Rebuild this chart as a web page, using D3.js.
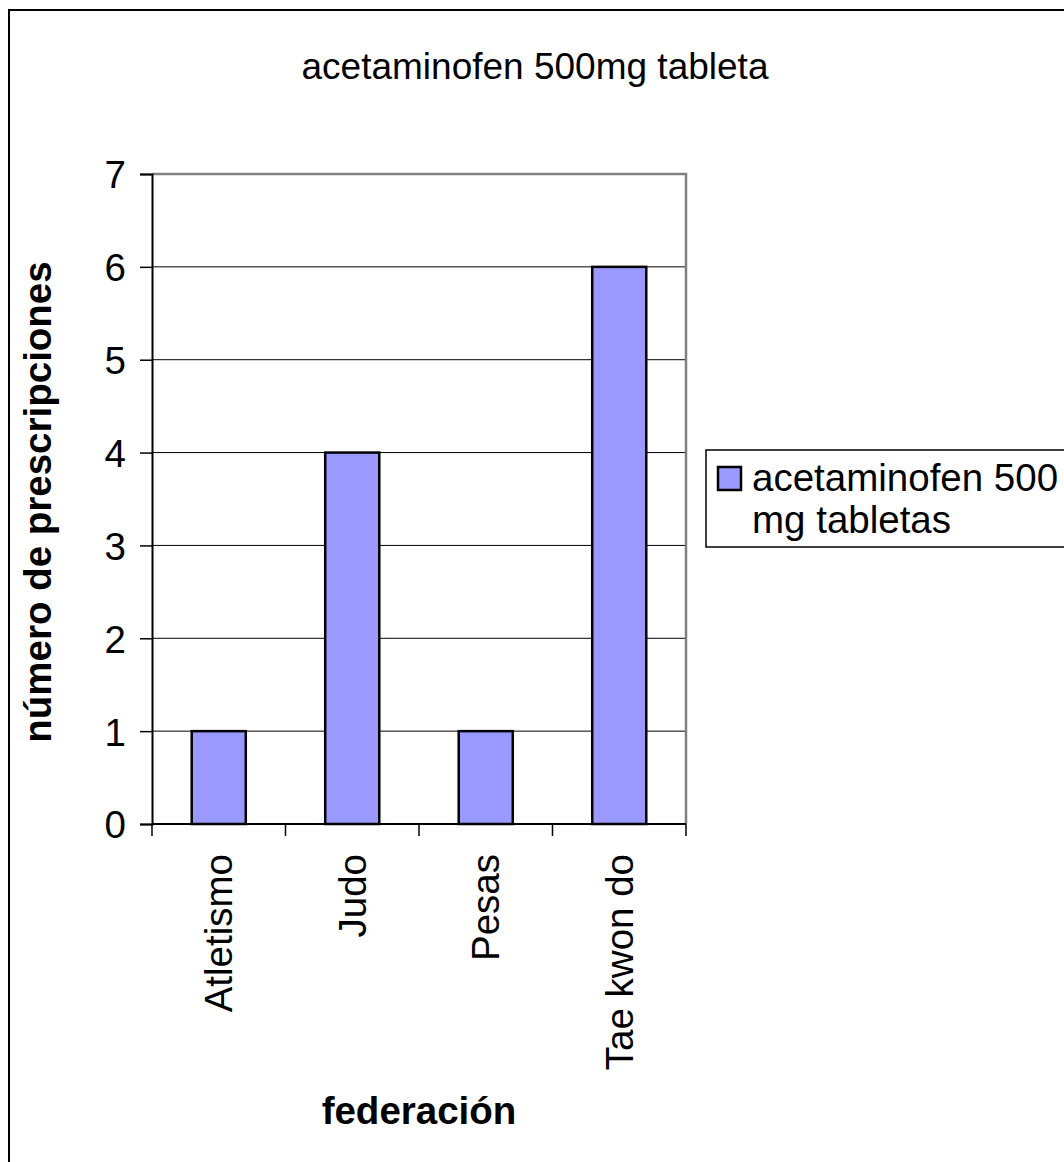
<!DOCTYPE html>
<html>
<head>
<meta charset="utf-8">
<script src="https://cdn.jsdelivr.net/npm/d3@7"></script>
<style>
  html, body { margin: 0; padding: 0; background: #fff; }
  svg { display: block; font-family: "Liberation Sans", Arial, sans-serif; }
</style>
</head>
<body>
<svg id="chart" width="1064" height="1162"></svg>
<script>
// Prescriptions of acetaminofen 500 mg tablets per sports federation
const categories = ["Atletismo", "Judo", "Pesas", "Tae kwon do"];
const values = [1, 4, 1, 6];
const yTicks = [0, 1, 2, 3, 4, 5, 6, 7];
const seriesName = ["acetaminofen 500", "mg tabletas"];
const title = "acetaminofen 500mg tableta";
const yTitle = "número de prescripciones";
const xTitle = "federación";

const svg = d3.select("#chart");
const fontSize = 38.5;
const titleSize = 37;
const barFill = "#9999FF";

// outer chart frame (extends past the window on the right and bottom)
svg.append("rect")
  .attr("x", 9).attr("y", 10)
  .attr("width", 1200).attr("height", 1300)
  .attr("fill", "#fff").attr("stroke", "#000").attr("stroke-width", 2);

const plot = { left: 152, top: 174, right: 686, bottom: 824 };

const x = d3.scaleBand().domain(categories).range([plot.left, plot.right]).padding(0);
const y = d3.scaleLinear().domain([0, 7]).range([plot.bottom, plot.top]);

// horizontal gridlines
svg.append("g")
  .selectAll("line")
  .data(yTicks.filter(t => t > 0 && t < 7))
  .join("line")
  .attr("x1", plot.left).attr("x2", plot.right)
  .attr("y1", d => y(d)).attr("y2", d => y(d))
  .attr("stroke", "#000").attr("stroke-width", 1);

// plot area top and right edges
svg.append("path")
  .attr("d", `M${plot.left},${y(7)}H${plot.right}V${plot.bottom}`)
  .attr("fill", "none").attr("stroke", "#808080").attr("stroke-width", 2.5);

// bars
const barW = x.bandwidth() * 0.405;
svg.append("g")
  .selectAll("rect")
  .data(categories.map((c, i) => ({ c, v: values[i] })))
  .join("rect")
  .attr("x", d => x(d.c) + x.bandwidth() / 2 - barW / 2)
  .attr("y", d => y(d.v))
  .attr("width", barW)
  .attr("height", d => y(0) - y(d.v))
  .attr("fill", barFill)
  .attr("stroke", "#000").attr("stroke-width", 2.5);

// y axis
const yAxis = d3.axisLeft(y).tickValues(yTicks).tickSize(12).tickPadding(14).tickFormat(d3.format("d"));
const gy = svg.append("g").attr("transform", `translate(${plot.left},0)`).call(yAxis);
gy.select(".domain").attr("stroke", "#000").attr("stroke-width", 2);
gy.selectAll(".tick line").attr("stroke", "#000").attr("stroke-width", 1.5);
gy.selectAll(".tick text")
  .attr("font-size", fontSize).attr("font-family", "Liberation Sans, Arial, sans-serif")
  .attr("fill", "#000").attr("dy", "0.36em");

// x axis: ticks at category boundaries
const gx = svg.append("g").attr("transform", `translate(0,${plot.bottom})`);
gx.append("line")
  .attr("x1", plot.left).attr("x2", plot.right)
  .attr("y1", 0).attr("y2", 0)
  .attr("stroke", "#000").attr("stroke-width", 2);
const bounds = categories.map(c => x(c)).concat([x(categories[categories.length - 1]) + x.bandwidth()]);
gx.selectAll("line.tk")
  .data(bounds)
  .join("line")
  .attr("class", "tk")
  .attr("x1", d => d).attr("x2", d => d)
  .attr("y1", 0).attr("y2", 12)
  .attr("stroke", "#000").attr("stroke-width", 1.5);
gx.selectAll("text")
  .data(categories)
  .join("text")
  .attr("transform", d => `translate(${x(d) + x.bandwidth() / 2},30) rotate(-90)`)
  .attr("text-anchor", "end")
  .attr("dy", "0.35em")
  .attr("font-size", fontSize)
  .attr("fill", "#000")
  .text(d => d);

// chart title
svg.append("text")
  .attr("x", 535).attr("y", 79)
  .attr("text-anchor", "middle")
  .attr("font-size", titleSize)
  .attr("fill", "#000")
  .text(title);

// axis titles
svg.append("text")
  .attr("transform", `translate(51,${(plot.top + plot.bottom) / 2 + 3}) rotate(-90)`)
  .attr("text-anchor", "middle")
  .attr("font-size", fontSize).attr("font-weight", "bold")
  .attr("fill", "#000")
  .text(yTitle);

svg.append("text")
  .attr("x", (plot.left + plot.right) / 2).attr("y", 1124)
  .attr("text-anchor", "middle")
  .attr("font-size", fontSize).attr("font-weight", "bold")
  .attr("fill", "#000")
  .text(xTitle);

// legend
const lg = svg.append("g");
lg.append("rect")
  .attr("x", 706).attr("y", 450)
  .attr("width", 500).attr("height", 97)
  .attr("fill", "#fff").attr("stroke", "#000").attr("stroke-width", 1.5);
lg.append("rect")
  .attr("x", 718).attr("y", 467)
  .attr("width", 23).attr("height", 23)
  .attr("fill", barFill).attr("stroke", "#000").attr("stroke-width", 2.5);
lg.selectAll("text.lt")
  .data(seriesName)
  .join("text")
  .attr("class", "lt")
  .attr("x", 752)
  .attr("y", (d, i) => 491 + i * 42)
  .attr("font-size", fontSize)
  .attr("fill", "#000")
  .text(d => d);
</script>
</body>
</html>
